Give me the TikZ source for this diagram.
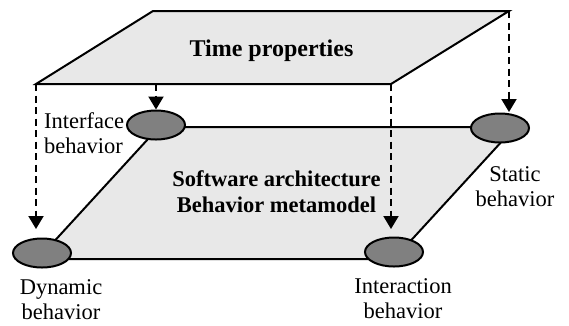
\documentclass[tikz,border=0pt]{standalone}
\usepackage{fontspec}
\setmainfont{Liberation Serif}
\usetikzlibrary{arrows.meta,shapes.geometric}
\definecolor{planegray}{RGB}{232,232,232}
\definecolor{dotgray}{RGB}{128,128,128}
\begin{document}
\begin{tikzpicture}[x=1pt,y=-1pt,
  plane/.style={fill=planegray, draw=black, line width=2pt, line join=miter},
  dot/.style={ellipse, draw=black, fill=dotgray, line width=2pt, minimum width=58pt, minimum height=29pt, inner sep=0pt},
  dasharrow/.style={draw=black, line width=2pt, dash pattern=on 7pt off 4.5pt, -{Triangle[length=13pt,width=15pt]}},
  lbl/.style={font=\fontsize{22.5}{25}\selectfont, align=center, inner sep=0pt},
  title/.style={font=\fontsize{22.5}{26}\selectfont\bfseries, align=center, inner sep=0pt}]
\useasboundingbox (0,0) rectangle (569,325);

% top plane
\coordinate (tTL) at (153,11);
\coordinate (tTR) at (509,11);
\coordinate (tBR) at (391,84);
\coordinate (tBL) at (36,84);
\coordinate (tIF) at (156,84);
\draw[plane] (tTL) -- (tTR) -- (tBR) -- (tBL) -- cycle;
\node[title, font=\fontsize{24}{26}\selectfont\bfseries, anchor=base] (tp) at (271.5,56) {Time properties};

% lower plane
\coordinate (lTL) at (159,127);
\coordinate (lTR) at (515,127);
\coordinate (lBR) at (394,259);
\coordinate (lBL) at (38,259);
\draw[plane] (lTL) -- (lTR) -- (lBR) -- (lBL) -- cycle;
\node[title, anchor=base] (sw) at (276.5,212) {Software architecture\\Behavior metamodel};

% behaviour nodes
\node[dot] (ifc) at (156,125) {};
\node[dot] (st) at (500,128) {};
\node[dot] (dyn) at (42,253) {};
\node[dot] (inter) at (394,252) {};

% arrow ends
\coordinate (dynTip) at (36,229);
\coordinate (stTip) at (509,112);
\coordinate (interTip) at (391,229);

\draw[dasharrow] (tBL) -- (dynTip);
\draw[dasharrow] (tIF) -- (ifc.north);
\draw[dasharrow] (tTR) -- (stTip);
\draw[dasharrow] (tBR) -- (interTip);

% labels
\node[lbl, align=left, anchor=base west] (lifc) at (44,153) {Interface\\behavior};
\node[lbl, anchor=base] (ldyn) at (61,319) {Dynamic\\behavior};
\node[lbl, anchor=base] (linter) at (403,318) {Interaction\\behavior};
\node[lbl, anchor=base] (lst) at (515,206) {Static\\behavior};
\end{tikzpicture}
\end{document}
